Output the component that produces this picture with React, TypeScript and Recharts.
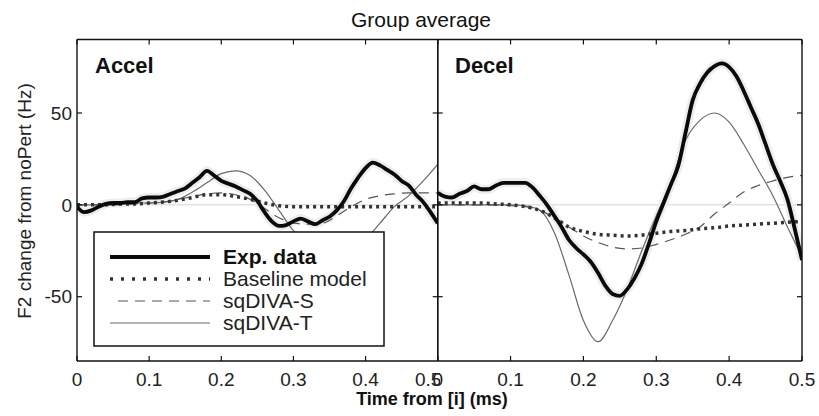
import { LineChart, Line, XAxis, YAxis, ReferenceLine } from "recharts";

// time grids (s)
const timeFine = [
  0, 0.01, 0.02, 0.03, 0.04, 0.05, 0.06, 0.07, 0.08, 0.09, 0.1, 0.11, 0.12, 0.13, 0.14, 0.15, 0.16,
  0.17, 0.18, 0.19, 0.2, 0.21, 0.22, 0.23, 0.24, 0.25, 0.26, 0.27, 0.28, 0.29, 0.3, 0.31, 0.32, 0.33,
  0.34, 0.35, 0.36, 0.37, 0.38, 0.39, 0.4, 0.41, 0.42, 0.43, 0.44, 0.45, 0.46, 0.47, 0.48, 0.49, 0.5,
];
const timeCoarse = [
  0, 0.02, 0.04, 0.06, 0.08, 0.1, 0.12, 0.14, 0.16, 0.18, 0.2, 0.22, 0.24, 0.26, 0.28, 0.3, 0.32,
  0.34, 0.36, 0.38, 0.4, 0.42, 0.44, 0.46, 0.48, 0.5,
];

// Accel panel
const accelExp = [
  -1, -4, -3, -1, 0.5, 1, 1, 1.5, 1.5, 3.5, 4, 4, 4.5, 6, 7.5, 9, 12, 15, 18.5, 16, 13, 11.5, 10, 8, 6,
  2, -4, -9, -11.5, -11, -9, -7.5, -9, -10.5, -8.5, -6.5, -3, 2, 9, 15, 20, 23, 21.5, 19, 16.5, 13, 10.5,
  5.5, 1.5, -4, -10,
];
const accelBaseline = [
  0, 0, 0, 0.5, 0.5, 1, 1.5, 2.5, 4, 5.5, 5.5, 4.5, 3, 1, -0.5, -1, -1, -1, -1, -1, -1, -1, -1, -1, -1, -1,
];
const accelSqdivaS = [
  0, 0, 0, 0, 0.5, 1, 1.5, 3, 4.5, 6, 6.5, 5.5, 3, -2, -7, -10, -10.5, -10, -6, -1, 3, 5, 6, 6.5, 6.5, 6.5,
];
const accelSqdivaT = [
  0, 0, 0, 0.5, 1, 1, 1.5, 3, 7, 12, 17, 18.5, 16, 8, -3, -14, -21, -26, -28, -27, -19, -10, -1, 5, 13, 22,
];

// Decel panel
const decelExp = [
  6.5, 4.5, 4, 6, 7.5, 10, 8.5, 8.5, 10.5, 12, 12, 12, 12, 9.5, 5, 0, -6, -12, -19, -23.5, -27, -31, -37,
  -44, -48.5, -49.5, -46, -40, -32, -21, -9, 1, 11, 21, 39, 57, 66, 72, 75.5, 77, 75, 70, 62, 53, 44, 33,
  22, 13, 3, -13, -30,
];
const decelBaseline = [
  1, 1, 1, 1, 0.5, 0, -1, -3, -7, -12, -14.5, -16, -16.5, -17, -16.5, -15.5, -14.5, -14, -13, -12.5,
  -11.5, -11, -10.5, -10, -9.5, -9,
];
const decelSqdivaS = [
  0, 0, 0, 0, 0, -0.5, -1, -3, -7, -12, -17, -20.5, -23, -24, -23.5, -21.5, -19, -16, -12, -5, 1, 7,
  10.5, 13, 15, 16,
];
const decelSqdivaT = [
  0, 0, 0, 0, 0, 0, -0.5, -3, -15, -38, -63, -74.5, -63, -46, -25, -6, 12, 35, 46, 50, 45, 33, 19, 5,
  -12, -28,
];

const xTicks = [0, 0.1, 0.2, 0.3, 0.4, 0.5];
const yTicks = [-50, 0, 50];

const FONT = "'Liberation Sans', Arial, sans-serif";

const toPoints = (t: number[], v: number[]) => t.map((x, i) => ({ t: x, v: v[i] }));

type PanelProps = {
  exp: number[];
  baseline: number[];
  sqS: number[];
  sqT: number[];
  showYLabels: boolean;
  width: number;
  margin: { top: number; right: number; bottom: number; left: number };
  yAxisWidth: number;
};

const Panel = ({ exp, baseline, sqS, sqT, showYLabels, width, margin, yAxisWidth }: PanelProps) => {
  const tickStyle = { fontSize: 19, fill: "#222", fontFamily: FONT };
  const axisLine = { stroke: "#111", strokeWidth: 1.4 };
  const tickLine = { stroke: "#111", strokeWidth: 1.2 };
  return (
    <LineChart width={width} height={416} margin={margin}>
      <XAxis
        xAxisId="b"
        type="number"
        dataKey="t"
        domain={[0, 0.5]}
        ticks={xTicks}
        allowDataOverflow
        height={40}
        tickSize={-5}
        tickMargin={17}
        tick={tickStyle}
        axisLine={axisLine}
        tickLine={tickLine}
        tickFormatter={(v: number) => (v === 0 ? "0" : String(v))}
      />
      <XAxis
        xAxisId="t"
        orientation="top"
        type="number"
        dataKey="t"
        domain={[0, 0.5]}
        ticks={xTicks}
        allowDataOverflow
        height={2}
        tickSize={-5}
        tick={tickStyle}
        axisLine={axisLine}
        tickLine={tickLine}
        tickFormatter={() => ""}
      />
      <YAxis
        yAxisId="l"
        type="number"
        domain={[-85, 90]}
        ticks={yTicks}
        allowDataOverflow
        width={yAxisWidth}
        tickSize={-5}
        tickMargin={10}
        tick={tickStyle}
        axisLine={axisLine}
        tickLine={tickLine}
        tickFormatter={(v: number) => (showYLabels ? String(v) : "")}
      />
      <YAxis
        yAxisId="r"
        orientation="right"
        type="number"
        domain={[-85, 90]}
        ticks={yTicks}
        allowDataOverflow
        width={2}
        tickSize={-5}
        tick={tickStyle}
        axisLine={axisLine}
        tickLine={tickLine}
        tickFormatter={() => ""}
      />
      <ReferenceLine xAxisId="b" yAxisId="l" y={0} stroke="#d2d2d2" strokeWidth={1} />
      <Line
        xAxisId="b"
        yAxisId="l"
        data={toPoints(timeFine, exp)}
        dataKey="v"
        type="monotone"
        stroke="#ededed"
        strokeWidth={9}
        dot={false}
        isAnimationActive={false}
      />
      <Line
        xAxisId="b"
        yAxisId="l"
        data={toPoints(timeCoarse, sqT)}
        dataKey="v"
        type="monotone"
        stroke="#6a6a6a"
        strokeWidth={1.2}
        dot={false}
        isAnimationActive={false}
      />
      <Line
        xAxisId="b"
        yAxisId="l"
        data={toPoints(timeCoarse, sqS)}
        dataKey="v"
        type="monotone"
        stroke="#555"
        strokeWidth={1.2}
        strokeDasharray="10 7"
        dot={false}
        isAnimationActive={false}
      />
      <Line
        xAxisId="b"
        yAxisId="l"
        data={toPoints(timeCoarse, baseline)}
        dataKey="v"
        type="monotone"
        stroke="#333"
        strokeWidth={3.5}
        strokeDasharray="3 4"
        dot={false}
        isAnimationActive={false}
      />
      <Line
        xAxisId="b"
        yAxisId="l"
        data={toPoints(timeFine, exp)}
        dataKey="v"
        type="monotone"
        stroke="#0a0a0a"
        strokeWidth={3.8}
        dot={false}
        isAnimationActive={false}
      />
    </LineChart>
  );
};

export default function App() {
  return (
    <div
      style={{
        position: "absolute",
        left: 0,
        top: 0,
        width: 819,
        height: 416,
        background: "#fff",
        fontFamily: FONT,
      }}
    >
      <div style={{ position: "absolute", left: 0, top: 0 }}>
        <Panel
          exp={accelExp}
          baseline={accelBaseline}
          sqS={accelSqdivaS}
          sqT={accelSqdivaT}
          showYLabels
          width={440}
          margin={{ top: 37.5, right: 0.3, bottom: 15, left: 27 }}
          yAxisWidth={50}
        />
      </div>
      <div style={{ position: "absolute", left: 400, top: 0 }}>
        <Panel
          exp={decelExp}
          baseline={decelBaseline}
          sqS={decelSqdivaS}
          sqT={decelSqdivaT}
          showYLabels={false}
          width={419}
          margin={{ top: 37.5, right: 15, bottom: 15, left: 35.7 }}
          yAxisWidth={2}
        />
      </div>
      <svg
        width={819}
        height={416}
        style={{ position: "absolute", left: 0, top: 0, pointerEvents: "none" }}
        fontFamily={FONT}
      >
        <text x={421} y={27} textAnchor="middle" fontSize={21} fill="#111">
          Group average
        </text>
        <text x={95} y={73} fontSize={22} fontWeight="bold" fill="#111">
          Accel
        </text>
        <text x={455} y={73} fontSize={22} fontWeight="bold" fill="#111">
          Decel
        </text>
        <text x={432} y={405} textAnchor="middle" fontSize={18} fontWeight="bold" fill="#111">
          Time from [i] (ms)
        </text>
        <text
          transform="translate(31 201) rotate(-90)"
          textAnchor="middle"
          fontSize={19}
          fill="#222"
        >
          F2 change from noPert (Hz)
        </text>
        {/* legend */}
        <rect x={94} y={232} width={290} height={114} fill="#fff" stroke="#111" strokeWidth={1.5} />
        <line x1={110} y1={257} x2={210} y2={257} stroke="#0a0a0a" strokeWidth={3.8} />
        <line x1={110} y1={279} x2={210} y2={279} stroke="#333" strokeWidth={3.5} strokeDasharray="3 8" />
        <line x1={118} y1={301} x2={210} y2={301} stroke="#555" strokeWidth={1.2} strokeDasharray="10 7" />
        <line x1={110} y1={323} x2={210} y2={323} stroke="#6a6a6a" strokeWidth={1.2} />
        <text x={223} y={264} fontSize={21} fontWeight="bold" fill="#111">
          Exp. data
        </text>
        <text x={223} y={286} fontSize={21} fill="#222">
          Baseline model
        </text>
        <text x={223} y={308} fontSize={21} fill="#222">
          sqDIVA-S
        </text>
        <text x={223} y={330} fontSize={21} fill="#222">
          sqDIVA-T
        </text>
      </svg>
    </div>
  );
}
